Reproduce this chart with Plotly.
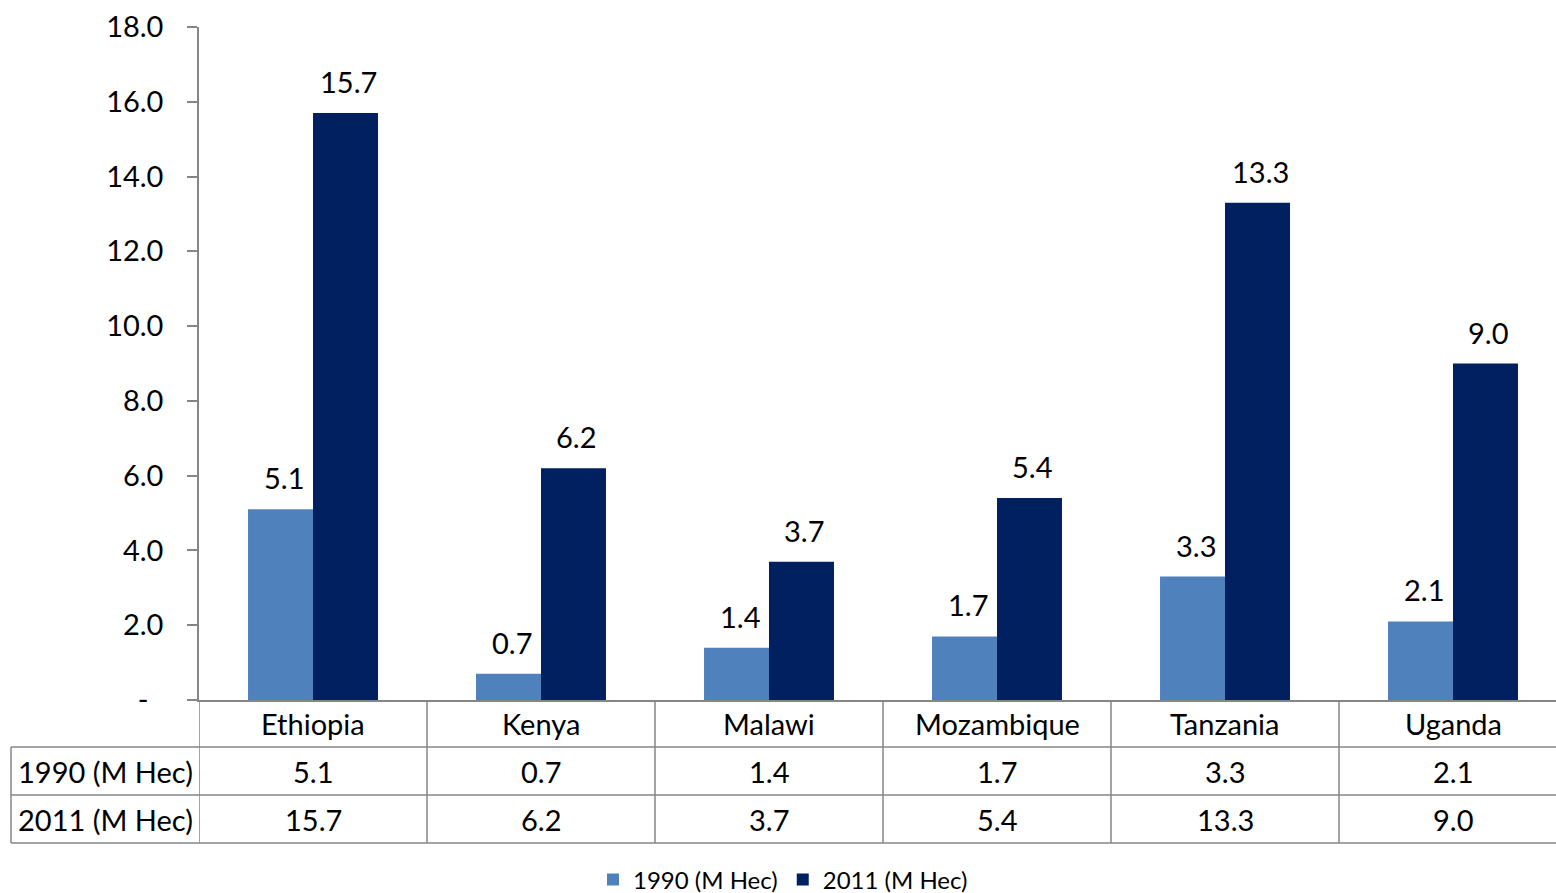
import plotly.graph_objects as go

countries = ["Ethiopia", "Kenya", "Malawi", "Mozambique", "Tanzania", "Uganda"]
series_names = ["1990 (M Hec)", "2011 (M Hec)"]
values_1990 = [5.1, 0.7, 1.4, 1.7, 3.3, 2.1]
values_2011 = [15.7, 6.2, 3.7, 5.4, 13.3, 9.0]
colors = ["#4F81BD", "#002060"]
ytick_vals = [0, 2, 4, 6, 8, 10, 12, 14, 16, 18]
ytick_text = ["-\u00a0\u00a0"] + [f"{v:.1f}" for v in ytick_vals[1:]]

FONT = "Lato"
FS = 29
GRID = "#868686"

W, H = 1556, 893
ML, MR, MT, MB = 199, 0, 27, 193
PW = W - ML - MR
PH = H - MT - MB
CAT_W = 228  # pixel width of one category column in the table
BARGAP = 0.43
X_RANGE = [-0.5, -0.5 + PW / CAT_W]


def py(pix):  # pixel y -> paper y
    return (H - MB - pix) / PH


def px(pix):  # pixel x -> paper x
    return (pix - ML) / PW


fig = go.Figure()
for name, vals, col in zip(series_names, [values_1990, values_2011], colors):
    fig.add_trace(go.Bar(
        x=countries, y=vals, name=name, marker=dict(color=col, line=dict(width=0)),
    ))

shapes = []
line = dict(color=GRID, width=1.5)
row_y = [747, 795, 843]
for yy in row_y:
    shapes.append(dict(type="line", xref="paper", yref="paper", x0=px(11), x1=1,
                       y0=py(yy), y1=py(yy), line=line, layer="above"))
for i in range(len(countries)):
    shapes.append(dict(type="line", xref="x", yref="paper", x0=i - 0.5, x1=i - 0.5,
                       y0=0, y1=py(843), line=line, layer="above"))
shapes.append(dict(type="line", xref="paper", yref="paper", x0=px(11), x1=px(11),
                   y0=py(747), y1=py(843), line=line, layer="above"))

annotations = []
tfont = dict(family=FONT, size=FS, color="black")
half_bar = CAT_W * (1 - BARGAP) / 4
for k, vals in enumerate([values_1990, values_2011]):
    for c, v in zip(countries, vals):
        annotations.append(dict(xref="x", yref="y", x=c, y=v, text=f"{v:.1f}",
                                showarrow=False, xanchor="center", yanchor="bottom",
                                xshift=(-half_bar if k == 0 else half_bar) + 3, yshift=12,
                                font=tfont))
for c in countries:
    annotations.append(dict(xref="x", yref="paper", x=c, y=py((700 + 747) / 2), text=c,
                            showarrow=False, xanchor="center", yanchor="middle", font=tfont))
row_centers = [(747 + 795) / 2, (795 + 843) / 2]
for name, vals, yc in zip(series_names, [values_1990, values_2011], row_centers):
    annotations.append(dict(xref="paper", yref="paper", x=px(16), y=py(yc),
                            text=name, showarrow=False, xanchor="left", yanchor="middle",
                            font=tfont))
    for c, v in zip(countries, vals):
        annotations.append(dict(xref="x", yref="paper", x=c, y=py(yc), text=f"{v:.1f}",
                                showarrow=False, xanchor="center", yanchor="middle",
                                font=tfont))

fig.update_layout(
    width=W, height=H,
    margin=dict(l=ML, r=MR, t=MT, b=MB, autoexpand=False),
    paper_bgcolor="white", plot_bgcolor="white",
    barmode="group", bargap=BARGAP, bargroupgap=0,
    font=dict(family=FONT, size=FS, color="black"),
    showlegend=True,
    legend=dict(orientation="h", x=px(783), xanchor="center", y=py(880), yanchor="middle",
                font=dict(family=FONT, size=24, color="black"), itemwidth=30,
                traceorder="normal"),
    shapes=shapes, annotations=annotations,
)
fig.update_yaxes(range=[0, 18], tickvals=ytick_vals, ticktext=ytick_text,
                 showgrid=False, zeroline=False, showline=True, linecolor=GRID, linewidth=1.5,
                 ticks="outside", ticklen=10, tickcolor=GRID, tickwidth=1.5,
                 ticklabelstandoff=18, tickfont=tfont)
fig.update_xaxes(range=X_RANGE, showgrid=False, showline=True, linecolor=GRID, linewidth=1.5,
                 ticks="", showticklabels=False)

fig.write_html("out.html", config={"displayModeBar": False},
               post_script="document.body.style.margin='0';")
